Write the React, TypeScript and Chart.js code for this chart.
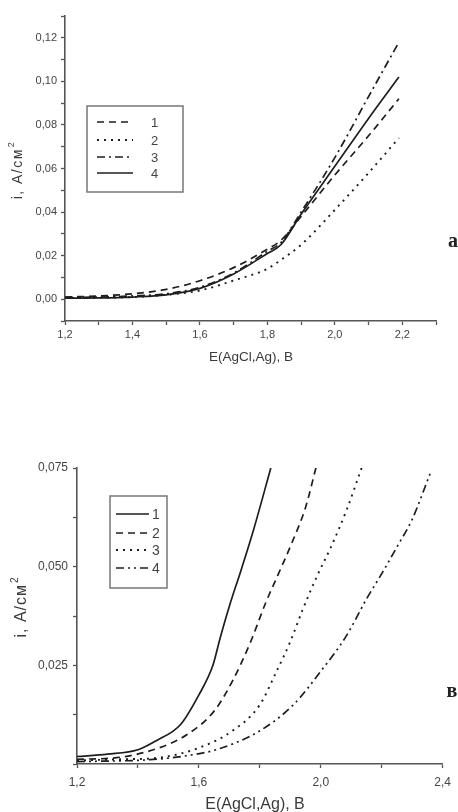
import React, { useEffect, useRef } from "react";
import { Chart, registerables } from "chart.js";

Chart.register(...registerables);

// ---------- Panel "a" data ----------
const TOP_E = [1.2, 1.3, 1.4, 1.5, 1.6, 1.7, 1.8, 1.84, 1.9, 2.0, 2.1, 2.19];
const TOP_I1 = [0.001, 0.0015, 0.0025, 0.0045, 0.0085, 0.0145, 0.023, 0.027, 0.038, 0.057, 0.075, 0.092];
const TOP_I2 = [0.0005, 0.0007, 0.001, 0.002, 0.004, 0.0086, 0.014, 0.018, 0.025, 0.041, 0.058, 0.074];
const TOP_I3 = [0.0008, 0.001, 0.0015, 0.0025, 0.0055, 0.012, 0.022, 0.026, 0.04, 0.065, 0.093, 0.118];
const TOP_I4 = [0.0005, 0.0006, 0.001, 0.002, 0.005, 0.0116, 0.021, 0.025, 0.039, 0.061, 0.083, 0.102];
const TOP_LABELS = ["1", "2", "3", "4"];

// ---------- Panel "в" data ----------
const BOT_E1 = [1.2, 1.3, 1.4, 1.46, 1.54, 1.6, 1.646, 1.67, 1.7, 1.74, 1.78, 1.836];
const BOT_I1 = [0.0019, 0.0025, 0.0036, 0.0059, 0.01, 0.0175, 0.025, 0.032, 0.04, 0.0495, 0.0595, 0.075];
const BOT_E2 = [1.2, 1.33, 1.47, 1.56, 1.65, 1.71, 1.77, 1.82, 1.86, 1.905, 1.95, 1.984];
const BOT_I2 = [0.0012, 0.0016, 0.0041, 0.0074, 0.0134, 0.021, 0.031, 0.041, 0.048, 0.056, 0.065, 0.075];
const BOT_E3 = [1.2, 1.35, 1.47, 1.6, 1.71, 1.8, 1.855, 1.9, 1.94, 1.99, 2.03, 2.085, 2.134];
const BOT_I3 = [0.0009, 0.0012, 0.0016, 0.0041, 0.0084, 0.015, 0.0235, 0.031, 0.039, 0.048, 0.0544, 0.0644, 0.075];
const BOT_E4 = [1.2, 1.44, 1.56, 1.66, 1.8, 1.91, 2.0, 2.085, 2.15, 2.203, 2.25, 2.3, 2.36];
const BOT_I4 = [0.0006, 0.0011, 0.0021, 0.0037, 0.0084, 0.015, 0.0235, 0.0326, 0.0418, 0.0486, 0.055, 0.062, 0.0738];
const BOT_LABELS = ["1", "2", "3", "4"];

const X_TITLE = "E(AgCl,Ag), B";
const Y_TITLE = "i, A/см";

const INK = "#1e1e1e";
const AXIS = "#555";
const TXT = "#444";

const pts = (xs: number[], ys: number[]) => xs.map((x, i) => ({ x, y: ys[i] }));

const overlayPlugin = {
  id: "overlay",
  afterDraw(chart: any, _args: any, opts: any) {
    const ctx = chart.ctx;
    ctx.save();
    // x title
    ctx.fillStyle = "#3a3a3a";
    ctx.font = `${opts.xTitleSize}px "Liberation Sans", Arial, sans-serif`;
    ctx.textAlign = "center";
    ctx.textBaseline = "middle";
    ctx.fillText(X_TITLE, opts.xTitleX, opts.xTitleY);
    // y title (rotated)
    ctx.save();
    ctx.translate(opts.yTitleX, opts.yTitleY);
    ctx.rotate(-Math.PI / 2);
    try { (ctx as any).letterSpacing = `${opts.yTitleSpacing}px`; } catch (e) {}
    ctx.font = `${opts.yTitleSize}px "Liberation Sans", Arial, sans-serif`;
    const w = ctx.measureText(Y_TITLE).width;
    const supSize = Math.round(opts.yTitleSize * 0.65);
    ctx.font = `${supSize}px "Liberation Sans", Arial, sans-serif`;
    const sw = ctx.measureText("2").width;
    const total = w + sw + 1;
    ctx.textAlign = "left";
    ctx.font = `${opts.yTitleSize}px "Liberation Sans", Arial, sans-serif`;
    ctx.fillText(Y_TITLE, -total / 2, 0);
    ctx.font = `${supSize}px "Liberation Sans", Arial, sans-serif`;
    ctx.fillText("2", -total / 2 + w + 1, -opts.yTitleSize * 0.45);
    try { (ctx as any).letterSpacing = "0px"; } catch (e) {}
    ctx.restore();
    // panel letter
    ctx.fillStyle = "#222";
    ctx.font = `bold ${opts.letterSize}px "Liberation Serif", "Times New Roman", serif`;
    ctx.textAlign = "center";
    ctx.fillText(opts.letter, opts.letterX, opts.letterY);
    // legend box
    const lg = opts.legend;
    ctx.strokeStyle = "#777";
    ctx.lineWidth = 1.5;
    ctx.setLineDash([]);
    ctx.strokeRect(lg.x, lg.y, lg.w, lg.h);
    chart.data.datasets.forEach((ds: any, i: number) => {
      const y = lg.rows[i];
      ctx.strokeStyle = ds.borderColor;
      ctx.lineWidth = ds.borderWidth;
      ctx.setLineDash(ds.borderDash || []);
      ctx.beginPath();
      ctx.moveTo(lg.sx1, y);
      ctx.lineTo(lg.sx2, y);
      ctx.stroke();
      ctx.setLineDash([]);
      ctx.fillStyle = TXT;
      ctx.font = `${lg.font}px "Liberation Sans", Arial, sans-serif`;
      ctx.textAlign = "left";
      ctx.textBaseline = "middle";
      ctx.fillText(ds.label, lg.tx, y + 1);
    });
    ctx.restore();
  },
};

function makeDs(label: string, data: any[], dash: number[], width = 1.7) {
  return {
    label,
    data,
    borderColor: INK,
    borderWidth: width,
    borderDash: dash,
    pointRadius: 0,
    fill: false,
    cubicInterpolationMode: "monotone" as const,
  };
}

export default function App() {
  const topRef = useRef<HTMLCanvasElement>(null);
  const botRef = useRef<HTMLCanvasElement>(null);

  useEffect(() => {
    const axisCommon = (font: number, pad: number) => ({
      type: "linear" as const,
      grid: {
        display: true,
        drawOnChartArea: false,
        drawTicks: true,
        tickLength: 4,
        tickWidth: 1.3,
        tickColor: AXIS,
      },
      border: { display: true, color: AXIS, width: 1.6 },
      ticks: {
        autoSkip: false,
        maxRotation: 0,
        color: TXT,
        padding: pad,
        font: { family: '"Liberation Sans", Arial, sans-serif', size: font },
      },
    });

    const top = new Chart(topRef.current!, {
      type: "line",
      data: {
        datasets: [
          makeDs(TOP_LABELS[0], pts(TOP_E, TOP_I1), [7, 5]),
          makeDs(TOP_LABELS[1], pts(TOP_E, TOP_I2), [2, 5], 1.9),
          makeDs(TOP_LABELS[2], pts(TOP_E, TOP_I3), [8, 4, 2, 4]),
          makeDs(TOP_LABELS[3], pts(TOP_E, TOP_I4), []),
        ],
      },
      options: {
        responsive: false,
        animation: false,
        devicePixelRatio: 1,
        layout: { padding: { top: 16, right: 22, left: 0, bottom: 0 } },
        plugins: {
          legend: { display: false },
          tooltip: { enabled: false },
          overlay: {
            xTitleX: 251, xTitleY: 357, xTitleSize: 13.5,
            yTitleX: 18, yTitleY: 170, yTitleSize: 14, yTitleSpacing: 1.5,
            letter: "a", letterX: 453, letterY: 242, letterSize: 20,
            legend: { x: 87, y: 106, w: 96, h: 86, rows: [122, 140, 157, 173], sx1: 97, sx2: 133, tx: 151, font: 13 },
          },
        } as any,
        scales: {
          x: {
            ...axisCommon(11, 3),
            min: 1.2,
            max: 2.3,
            afterFit: (s: any) => { s.height = 49; },
            ticks: {
              ...axisCommon(11, 3).ticks,
              stepSize: 0.1,
              callback: (v: any) => {
                const k = Math.round(Number(v) * 10);
                return k % 2 === 0 ? (k / 10).toFixed(1).replace(".", ",") : "";
              },
            },
          },
          y: {
            ...axisCommon(11, 4),
            min: -0.01,
            max: 0.13,
            afterFit: (s: any) => { s.width = 65; },
            ticks: {
              ...axisCommon(11, 4).ticks,
              stepSize: 0.01,
              callback: (v: any) => {
                const k = Math.round(Number(v) * 100);
                return k % 2 === 0 ? (k / 100).toFixed(2).replace(".", ",") : "";
              },
            },
          },
        },
      } as any,
      plugins: [overlayPlugin],
    });

    const bot = new Chart(botRef.current!, {
      type: "line",
      data: {
        datasets: [
          makeDs(BOT_LABELS[0], pts(BOT_E1, BOT_I1), []),
          makeDs(BOT_LABELS[1], pts(BOT_E2, BOT_I2), [7, 5]),
          makeDs(BOT_LABELS[2], pts(BOT_E3, BOT_I3), [2, 5], 1.9),
          makeDs(BOT_LABELS[3], pts(BOT_E4, BOT_I4), [8, 4, 2, 4, 2, 4]),
        ],
      },
      options: {
        responsive: false,
        animation: false,
        devicePixelRatio: 1,
        layout: { padding: { top: 98, right: 15, left: 0, bottom: 0 } },
        plugins: {
          legend: { display: false },
          tooltip: { enabled: false },
          overlay: {
            xTitleX: 255, xTitleY: 435, xTitleSize: 16,
            yTitleX: 22, yTitleY: 237, yTitleSize: 16, yTitleSpacing: 1,
            letter: "в", letterX: 452, letterY: 322, letterSize: 20,
            legend: { x: 110, y: 126, w: 57, h: 92, rows: [144, 163, 180, 198], sx1: 116, sx2: 149, tx: 152, font: 14 },
          },
        } as any,
        scales: {
          x: {
            ...axisCommon(12, 7),
            min: 1.2,
            max: 2.4,
            afterFit: (s: any) => { s.height = 48; },
            ticks: {
              ...axisCommon(12, 7).ticks,
              stepSize: 0.2,
              callback: (v: any) => {
                const k = Math.round(Number(v) * 10);
                return k % 4 === 0 ? (k / 10).toFixed(1).replace(".", ",") : "";
              },
            },
          },
          y: {
            ...axisCommon(12, 5),
            min: 0,
            max: 0.075,
            afterFit: (s: any) => { s.width = 77; },
            ticks: {
              ...axisCommon(12, 5).ticks,
              stepSize: 0.0125,
              callback: (v: any) => {
                const k = Math.round(Number(v) * 10000);
                return k > 0 && k % 250 === 0 ? (k / 10000).toFixed(3).replace(".", ",") : "";
              },
            },
          },
        },
      } as any,
      plugins: [overlayPlugin],
    });

    return () => {
      top.destroy();
      bot.destroy();
    };
  }, []);

  return (
    <div style={{ position: "absolute", left: 0, top: 0, width: 458, height: 812, background: "#fff", overflow: "hidden" }}>
      <canvas ref={topRef} width={458} height={370} style={{ position: "absolute", left: 0, top: 0 }} />
      <canvas ref={botRef} width={458} height={442} style={{ position: "absolute", left: 0, top: 370 }} />
    </div>
  );
}
